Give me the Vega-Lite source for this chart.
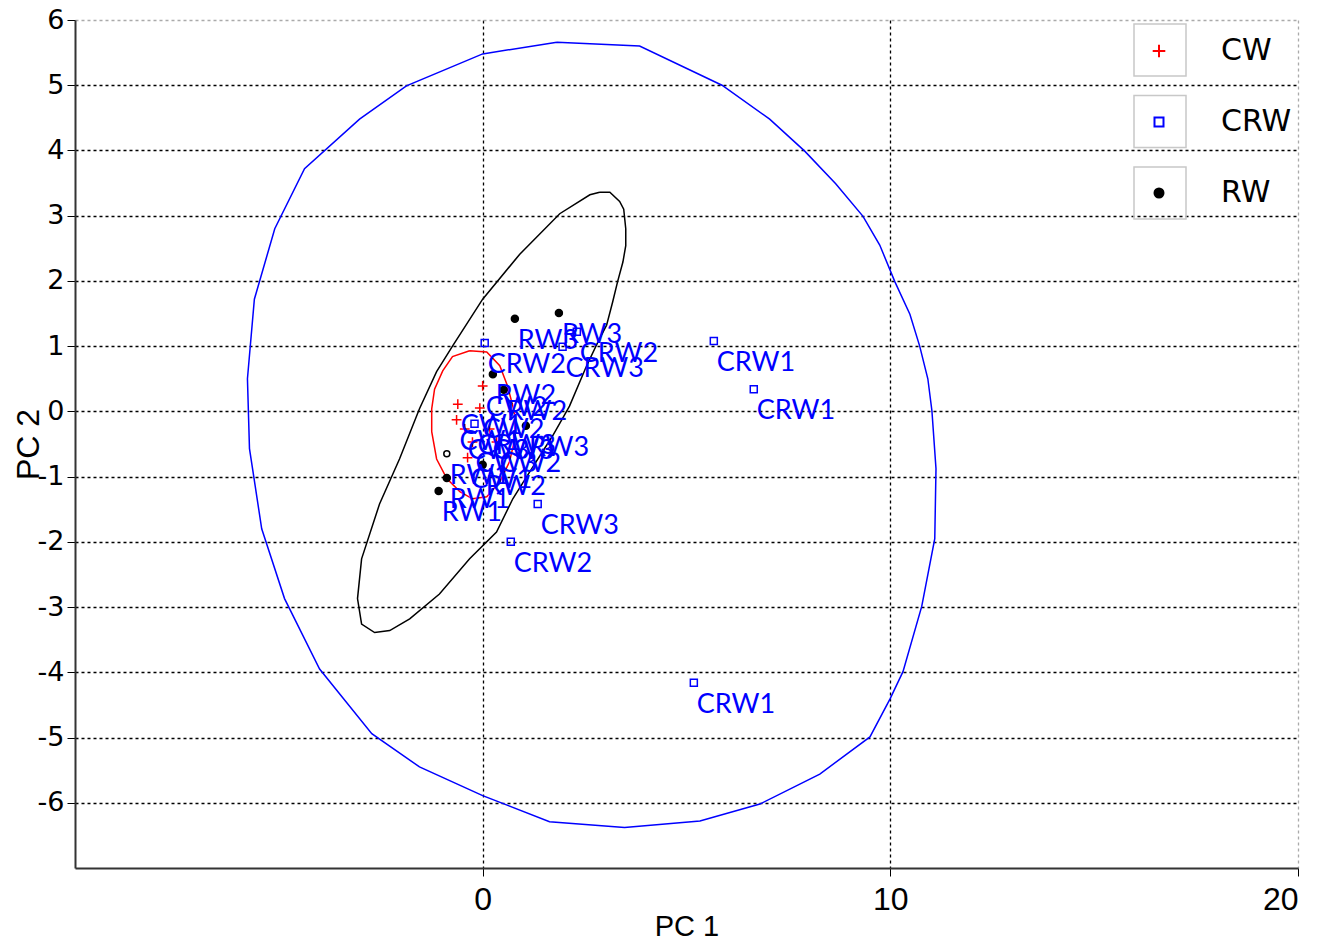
{
  "$schema": "https://vega.github.io/schema/vega-lite/v6.json",
  "width": 1223,
  "height": 848,
  "autosize": {"type": "none"},
  "padding": {"left": 75, "top": 20, "right": 37, "bottom": 79},
  "background": "white",
  "config": {"view": {"stroke": null}, "font": "DejaVu Sans"},
  "datasets": {
    "points": [
      {"group": "CW", "label": "CW2", "x": 0.00, "y": 0.39},
      {"group": "CW", "label": "CW1", "x": -0.61, "y": 0.11},
      {"group": "CW", "label": "CW2", "x": -0.07, "y": 0.05},
      {"group": "CW", "label": "CW1", "x": -0.64, "y": -0.13},
      {"group": "CW", "label": "CW3", "x": -0.44, "y": -0.27},
      {"group": "CW", "label": "CW3", "x": -0.25, "y": -0.47},
      {"group": "CW", "label": "CW1", "x": -0.37, "y": -0.71},
      {"group": "CW", "label": "CW3", "x": 0.17, "y": -0.27},
      {"group": "CW", "label": "CW2", "x": 0.34, "y": -0.47},
      {"group": "CRW", "label": "CRW1", "x": 5.67, "y": 1.08},
      {"group": "CRW", "label": "CRW1", "x": 6.65, "y": 0.34},
      {"group": "CRW", "label": "CRW1", "x": 5.18, "y": -4.16},
      {"group": "CRW", "label": "CRW2", "x": 0.05, "y": 1.05},
      {"group": "CRW", "label": "CRW2", "x": 2.31, "y": 1.22},
      {"group": "CRW", "label": "CRW2", "x": 0.69, "y": -2.00},
      {"group": "CRW", "label": "CRW3", "x": 1.96, "y": 0.99},
      {"group": "CRW", "label": "CRW3", "x": 1.35, "y": -1.42},
      {"group": "CRW", "label": "CRW3", "x": -0.20, "y": -0.19},
      {"group": "RW", "label": "RW3", "x": 0.79, "y": 1.42},
      {"group": "RW", "label": "RW3", "x": 1.87, "y": 1.51},
      {"group": "RW", "label": "RW3", "x": 1.06, "y": -0.22},
      {"group": "RW", "label": "RW2", "x": 0.25, "y": 0.57},
      {"group": "RW", "label": "RW2", "x": 0.52, "y": 0.33},
      {"group": "RW", "label": "RW2", "x": 0.00, "y": -0.82},
      {"group": "RW", "label": "RW1", "x": -0.88, "y": -1.02},
      {"group": "RW", "label": "RW1", "x": -1.08, "y": -1.22}
    ],
    "open": [
      {"group": "RW", "label": "RW1", "x": -0.88, "y": -0.65}
    ],
    "ellipses": [
      {"e": "CRW", "i": 0, "x": 1.82, "y": 5.66},
      {"e": "CRW", "i": 1, "x": 3.85, "y": 5.60},
      {"e": "CRW", "i": 2, "x": 5.87, "y": 5.00},
      {"e": "CRW", "i": 3, "x": 7.04, "y": 4.48},
      {"e": "CRW", "i": 4, "x": 7.90, "y": 3.99},
      {"e": "CRW", "i": 5, "x": 8.66, "y": 3.49},
      {"e": "CRW", "i": 6, "x": 9.33, "y": 2.99},
      {"e": "CRW", "i": 7, "x": 9.74, "y": 2.55},
      {"e": "CRW", "i": 8, "x": 10.11, "y": 1.99},
      {"e": "CRW", "i": 9, "x": 10.48, "y": 1.49},
      {"e": "CRW", "i": 10, "x": 10.72, "y": 1.00},
      {"e": "CRW", "i": 11, "x": 10.92, "y": 0.50},
      {"e": "CRW", "i": 12, "x": 11.02, "y": 0.01},
      {"e": "CRW", "i": 13, "x": 11.12, "y": -0.88},
      {"e": "CRW", "i": 14, "x": 11.09, "y": -1.95},
      {"e": "CRW", "i": 15, "x": 10.77, "y": -2.99},
      {"e": "CRW", "i": 16, "x": 10.31, "y": -3.99},
      {"e": "CRW", "i": 17, "x": 9.99, "y": -4.41},
      {"e": "CRW", "i": 18, "x": 9.50, "y": -4.99},
      {"e": "CRW", "i": 19, "x": 8.27, "y": -5.56},
      {"e": "CRW", "i": 20, "x": 6.80, "y": -6.02},
      {"e": "CRW", "i": 21, "x": 5.33, "y": -6.28},
      {"e": "CRW", "i": 22, "x": 3.48, "y": -6.38},
      {"e": "CRW", "i": 23, "x": 1.64, "y": -6.29},
      {"e": "CRW", "i": 24, "x": 0.00, "y": -5.89},
      {"e": "CRW", "i": 25, "x": -1.55, "y": -5.45},
      {"e": "CRW", "i": 26, "x": -2.72, "y": -4.94},
      {"e": "CRW", "i": 27, "x": -4.00, "y": -3.95},
      {"e": "CRW", "i": 28, "x": -4.86, "y": -2.87},
      {"e": "CRW", "i": 29, "x": -5.42, "y": -1.80},
      {"e": "CRW", "i": 30, "x": -5.72, "y": -0.57},
      {"e": "CRW", "i": 31, "x": -5.77, "y": 0.50},
      {"e": "CRW", "i": 32, "x": -5.60, "y": 1.72},
      {"e": "CRW", "i": 33, "x": -5.10, "y": 2.80},
      {"e": "CRW", "i": 34, "x": -4.37, "y": 3.72},
      {"e": "CRW", "i": 35, "x": -3.02, "y": 4.48},
      {"e": "CRW", "i": 36, "x": -1.87, "y": 4.99},
      {"e": "CRW", "i": 37, "x": 0.00, "y": 5.48},
      {"e": "CRW", "i": 38, "x": 1.82, "y": 5.66},
      {"e": "RW", "i": 0, "x": 2.87, "y": 3.36},
      {"e": "RW", "i": 1, "x": 3.12, "y": 3.36},
      {"e": "RW", "i": 2, "x": 3.36, "y": 3.22},
      {"e": "RW", "i": 3, "x": 3.46, "y": 3.10},
      {"e": "RW", "i": 4, "x": 3.51, "y": 2.80},
      {"e": "RW", "i": 5, "x": 3.51, "y": 2.54},
      {"e": "RW", "i": 6, "x": 3.44, "y": 2.29},
      {"e": "RW", "i": 7, "x": 3.31, "y": 1.99},
      {"e": "RW", "i": 8, "x": 3.19, "y": 1.68},
      {"e": "RW", "i": 9, "x": 3.04, "y": 1.32},
      {"e": "RW", "i": 10, "x": 2.87, "y": 1.12},
      {"e": "RW", "i": 11, "x": 2.55, "y": 0.70},
      {"e": "RW", "i": 12, "x": 2.13, "y": 0.08},
      {"e": "RW", "i": 13, "x": 1.72, "y": -0.37},
      {"e": "RW", "i": 14, "x": 1.15, "y": -0.93},
      {"e": "RW", "i": 15, "x": 0.74, "y": -1.34},
      {"e": "RW", "i": 16, "x": 0.34, "y": -1.85},
      {"e": "RW", "i": 17, "x": -0.32, "y": -2.26},
      {"e": "RW", "i": 18, "x": -1.06, "y": -2.80},
      {"e": "RW", "i": 19, "x": -1.79, "y": -3.18},
      {"e": "RW", "i": 20, "x": -2.28, "y": -3.36},
      {"e": "RW", "i": 21, "x": -2.65, "y": -3.39},
      {"e": "RW", "i": 22, "x": -2.97, "y": -3.26},
      {"e": "RW", "i": 23, "x": -3.07, "y": -2.87},
      {"e": "RW", "i": 24, "x": -2.97, "y": -2.26},
      {"e": "RW", "i": 25, "x": -2.53, "y": -1.42},
      {"e": "RW", "i": 26, "x": -2.04, "y": -0.73},
      {"e": "RW", "i": 27, "x": -1.55, "y": 0.04},
      {"e": "RW", "i": 28, "x": -1.13, "y": 0.61},
      {"e": "RW", "i": 29, "x": -0.74, "y": 1.00},
      {"e": "RW", "i": 30, "x": 0.00, "y": 1.72},
      {"e": "RW", "i": 31, "x": 0.91, "y": 2.41},
      {"e": "RW", "i": 32, "x": 1.89, "y": 3.03},
      {"e": "RW", "i": 33, "x": 2.63, "y": 3.32},
      {"e": "RW", "i": 34, "x": 2.87, "y": 3.36},
      {"e": "CW", "i": 0, "x": -0.32, "y": 0.93},
      {"e": "CW", "i": 1, "x": 0.10, "y": 0.91},
      {"e": "CW", "i": 2, "x": 0.42, "y": 0.70},
      {"e": "CW", "i": 3, "x": 0.61, "y": 0.39},
      {"e": "CW", "i": 4, "x": 0.74, "y": 0.08},
      {"e": "CW", "i": 5, "x": 0.79, "y": -0.07},
      {"e": "CW", "i": 6, "x": 0.79, "y": -0.42},
      {"e": "CW", "i": 7, "x": 0.66, "y": -0.77},
      {"e": "CW", "i": 8, "x": 0.42, "y": -1.08},
      {"e": "CW", "i": 9, "x": 0.10, "y": -1.31},
      {"e": "CW", "i": 10, "x": -0.25, "y": -1.34},
      {"e": "CW", "i": 11, "x": -0.56, "y": -1.23},
      {"e": "CW", "i": 12, "x": -0.88, "y": -1.03},
      {"e": "CW", "i": 13, "x": -1.13, "y": -0.73},
      {"e": "CW", "i": 14, "x": -1.25, "y": -0.31},
      {"e": "CW", "i": 15, "x": -1.25, "y": 0.04},
      {"e": "CW", "i": 16, "x": -1.18, "y": 0.34},
      {"e": "CW", "i": 17, "x": -0.98, "y": 0.62},
      {"e": "CW", "i": 18, "x": -0.74, "y": 0.84},
      {"e": "CW", "i": 19, "x": -0.32, "y": 0.93}
    ]
  },
  "layer": [
    {
      "data": {"name": "ellipses"},
      "transform": [{"filter": "datum.e == 'CRW'"}],
      "mark": {"type": "line", "color": "#0000ff", "strokeWidth": 1.5},
      "encoding": {
        "x": {
          "field": "x", "type": "quantitative",
          "scale": {"domain": [-10, 20], "nice": false, "zero": false},
          "axis": {
            "values": [0, 10, 20],
            "labelExpr": "'' + datum.value",
            "title": "PC 1",
            "titleFont": "Liberation Sans",
            "titleFontSize": 29, "titleFontWeight": "normal", "titleColor": "black",
            "titlePadding": -3,
            "labelFont": "Liberation Sans",
            "labelFontSize": 32, "labelColor": "black", "labelPadding": 8,
            "tickSize": 8, "tickColor": "black",
            "domainColor": "#333333", "domainWidth": 2,
            "grid": true,
            "gridColor": {"condition": {"test": "datum.value == 20", "value": "#aaaaaa"}, "value": "black"},
            "gridDash": [3, 3], "gridWidth": 1.3
          }
        },
        "y": {
          "field": "y", "type": "quantitative",
          "scale": {"domain": [-7, 6], "nice": false, "zero": false},
          "axis": {
            "values": [-6, -5, -4, -3, -2, -1, 0, 1, 2, 3, 4, 5, 6],
            "labelExpr": "'' + datum.value",
            "title": "PC 2",
            "titleFont": "Liberation Sans",
            "titleFontSize": 32, "titleFontWeight": "normal", "titleColor": "black",
            "titlePadding": -8,
            "labelFont": "DejaVu Sans", "labelFontSize": 27, "labelColor": "black",
            "labelPadding": 3,
            "tickSize": 8, "tickColor": "black",
            "domainColor": "#333333", "domainWidth": 2,
            "grid": true,
            "gridColor": {"condition": {"test": "datum.value == 6", "value": "#aaaaaa"}, "value": "black"},
            "gridDash": [3, 3], "gridWidth": 1.3
          }
        },
        "order": {"field": "i", "type": "quantitative"}
      }
    },
    {
      "data": {"name": "ellipses"},
      "transform": [{"filter": "datum.e == 'RW'"}],
      "mark": {"type": "line", "color": "#000000", "strokeWidth": 1.5},
      "encoding": {
        "x": {"field": "x", "type": "quantitative"},
        "y": {"field": "y", "type": "quantitative"},
        "order": {"field": "i", "type": "quantitative"}
      }
    },
    {
      "data": {"name": "ellipses"},
      "transform": [{"filter": "datum.e == 'CW'"}],
      "mark": {"type": "line", "color": "#ff0000", "strokeWidth": 1.5},
      "encoding": {
        "x": {"field": "x", "type": "quantitative"},
        "y": {"field": "y", "type": "quantitative"},
        "order": {"field": "i", "type": "quantitative"}
      }
    },
    {
      "data": {"name": "points"},
      "mark": {"type": "point", "opacity": 0},
      "encoding": {
        "x": {"field": "x", "type": "quantitative"},
        "y": {"field": "y", "type": "quantitative"},
        "size": {
          "field": "group", "type": "ordinal",
          "sort": ["CW", "CRW", "RW"],
          "scale": {"range": [2704, 2704]},
          "legend": {
            "orient": "none", "legendX": 1058, "legendY": 3, "title": null,
            "symbolType": "square",
            "symbolFillColor": "transparent", "symbolStrokeColor": "#c8c8c8",
            "symbolStrokeWidth": 1.5, "symbolOpacity": 1,
            "labelOpacity": 0, "labelFontSize": 10, "rowPadding": 13.5, "padding": 0
          }
        }
      }
    },
    {
      "data": {"name": "points"},
      "mark": {"type": "point", "strokeWidth": 1.5, "opacity": 1, "size": 49},
      "encoding": {
        "x": {"field": "x", "type": "quantitative"},
        "y": {"field": "y", "type": "quantitative"},
        "shape": {
          "field": "group", "type": "nominal",
          "scale": {"domain": ["CW", "CRW", "RW"], "range": ["M-1.4,0H1.4M0,-1.4V1.4", "square", "circle"]},
          "legend": {
            "orient": "none", "legendX": 1069, "legendY": 16, "title": null,
            "labelFont": "DejaVu Sans", "labelFontSize": 30, "labelColor": "black",
            "rowPadding": 41, "symbolSize": 81, "symbolStrokeWidth": 2,
            "labelOffset": 47, "padding": 0
          }
        },
        "stroke": {
          "field": "group", "type": "nominal",
          "scale": {"domain": ["CW", "CRW", "RW"], "range": ["#ff0000", "#0000ff", "#000000"]},
          "legend": {
            "orient": "none", "legendX": 1069, "legendY": 16, "title": null,
            "labelFont": "DejaVu Sans", "labelFontSize": 30, "labelColor": "black",
            "rowPadding": 41, "symbolSize": 81, "symbolStrokeWidth": 2,
            "labelOffset": 47, "padding": 0
          }
        },
        "fill": {
          "field": "group", "type": "nominal",
          "scale": {"domain": ["CW", "CRW", "RW"], "range": ["transparent", "transparent", "#000000"]},
          "legend": {
            "orient": "none", "legendX": 1069, "legendY": 16, "title": null,
            "labelFont": "DejaVu Sans", "labelFontSize": 30, "labelColor": "black",
            "rowPadding": 41, "symbolSize": 81, "symbolStrokeWidth": 2,
            "labelOffset": 47, "padding": 0
          }
        }
      }
    },
    {
      "data": {"name": "open"},
      "mark": {"type": "point", "shape": "circle", "filled": false, "color": "#000000", "strokeWidth": 1.5, "size": 36, "opacity": 1},
      "encoding": {
        "x": {"field": "x", "type": "quantitative"},
        "y": {"field": "y", "type": "quantitative"}
      }
    },
    {
      "data": {"name": "points"},
      "mark": {"type": "text", "color": "#0000ff", "font": "Lato", "fontSize": 27, "align": "left", "baseline": "middle", "dx": 3, "dy": 22},
      "encoding": {
        "x": {"field": "x", "type": "quantitative"},
        "y": {"field": "y", "type": "quantitative"},
        "text": {"field": "label", "type": "nominal"}
      }
    },
    {
      "data": {"name": "open"},
      "mark": {"type": "text", "color": "#0000ff", "font": "Lato", "fontSize": 27, "align": "left", "baseline": "middle", "dx": 3, "dy": 22},
      "encoding": {
        "x": {"field": "x", "type": "quantitative"},
        "y": {"field": "y", "type": "quantitative"},
        "text": {"field": "label", "type": "nominal"}
      }
    }
  ]
}
